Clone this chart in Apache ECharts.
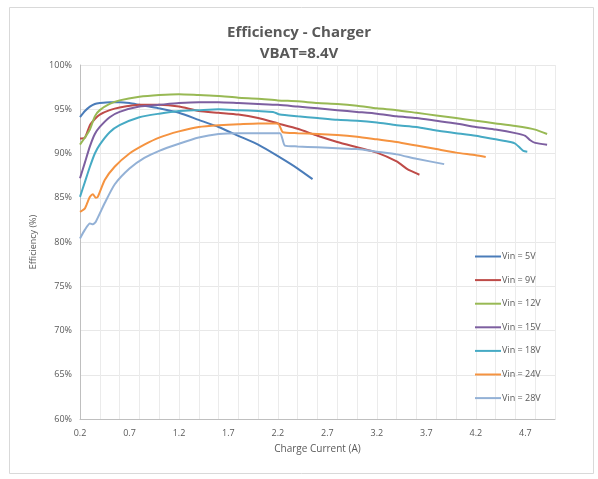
<!DOCTYPE html>
<html>
<head>
<meta charset="utf-8">
<script src="https://cdn.jsdelivr.net/npm/echarts@6/dist/echarts.min.js"></script>
<style>
html,body{margin:0;padding:0;background:#fff;}
#chart{width:598px;height:479px;}
</style>
</head>
<body>
<div id="chart"></div>
<script>
// ---- Data ----
const seriesNames = ['Vin = 5V','Vin = 9V','Vin = 12V','Vin = 15V','Vin = 18V','Vin = 24V','Vin = 28V'];

const vin5I = [0.2,0.25,0.3,0.35,0.4,0.5,0.6,0.7,0.8,0.9,1.0,1.2,1.4,1.6,1.8,2.0,2.2,2.4,2.55];
const vin5E = [94.1,94.8,95.3,95.6,95.7,95.8,95.8,95.7,95.5,95.3,95.1,94.6,93.8,93.0,92.0,91.0,89.7,88.3,87.1];

const vin9I = [0.2,0.25,0.3,0.35,0.4,0.5,0.6,0.8,1.0,1.2,1.4,1.6,1.8,2.0,2.2,2.4,2.6,2.8,3.0,3.2,3.4,3.5,3.55,3.63];
const vin9E = [91.7,91.8,93.2,93.9,94.4,94.9,95.2,95.5,95.5,95.3,94.8,94.6,94.4,94.0,93.4,92.8,92.0,91.3,90.7,90.1,89.1,88.3,88.0,87.6];

const vin12I = [0.2,0.25,0.3,0.35,0.4,0.5,0.6,0.8,1.0,1.2,1.4,1.6,1.8,2.0,2.2,2.4,2.6,2.8,3.0,3.2,3.4,3.6,3.8,4.0,4.2,4.4,4.6,4.8,4.92];
const vin12E = [91.0,91.8,92.7,94.2,94.9,95.6,96.0,96.4,96.6,96.7,96.6,96.5,96.3,96.2,96.0,95.9,95.7,95.6,95.4,95.1,94.9,94.6,94.3,94.0,93.7,93.4,93.1,92.7,92.2];

const vin15I = [0.2,0.25,0.3,0.35,0.4,0.5,0.6,0.8,1.0,1.2,1.4,1.6,1.8,2.0,2.2,2.4,2.6,2.8,3.0,3.2,3.4,3.6,3.8,4.0,4.2,4.4,4.6,4.7,4.75,4.8,4.92];
const vin15E = [87.2,89.0,90.8,92.2,93.0,94.1,94.7,95.3,95.5,95.7,95.8,95.8,95.7,95.6,95.5,95.3,95.1,94.9,94.7,94.5,94.2,94.0,93.7,93.4,93.0,92.7,92.3,92.0,91.5,91.2,91.0];

const vin18I = [0.2,0.25,0.3,0.35,0.4,0.5,0.6,0.8,1.0,1.2,1.4,1.6,1.8,2.0,2.15,2.22,2.4,2.6,2.8,3.0,3.2,3.4,3.6,3.8,4.0,4.2,4.4,4.55,4.6,4.65,4.68,4.72];
const vin18E = [85.1,86.8,88.5,90.0,91.0,92.4,93.2,94.1,94.5,94.8,94.9,95.0,94.9,94.8,94.7,94.4,94.2,94.0,93.8,93.7,93.5,93.2,93.0,92.6,92.3,92.0,91.6,91.3,91.1,90.6,90.3,90.2];

const vin24I = [0.2,0.25,0.28,0.3,0.33,0.36,0.38,0.45,0.55,0.7,0.85,1.0,1.2,1.4,1.6,1.8,2.0,2.2,2.25,2.4,2.6,2.8,3.0,3.2,3.4,3.6,3.8,4.0,4.2,4.3];
const vin24E = [83.4,83.8,84.6,85.1,85.4,85.0,85.1,87.0,88.5,90.0,91.0,91.8,92.5,93.0,93.2,93.3,93.4,93.4,92.4,92.3,92.2,92.1,91.9,91.6,91.3,90.9,90.5,90.1,89.8,89.6];

const vin28I = [0.2,0.25,0.3,0.33,0.36,0.45,0.55,0.7,0.85,1.0,1.2,1.4,1.6,1.8,2.0,2.22,2.27,2.4,2.6,2.8,3.0,3.2,3.4,3.6,3.88];
const vin28E = [80.4,81.4,82.1,82.0,82.3,84.4,86.5,88.3,89.5,90.3,91.1,91.8,92.2,92.3,92.3,92.3,90.9,90.8,90.7,90.6,90.5,90.2,89.9,89.4,88.8];

const currents = [vin5I, vin9I, vin12I, vin15I, vin18I, vin24I, vin28I];
const effs = [vin5E, vin9E, vin12E, vin15E, vin18E, vin24E, vin28E];
const colors = ['#4A7CB9','#BE4B48','#98B954','#7D5FA0','#46AAC4','#F59340','#93B1D6'];

const FONT = '"Open Sans", "Liberation Sans", sans-serif';
const chart = echarts.init(document.getElementById('chart'));

const series = seriesNames.map((n, i) => ({
  name: n,
  type: 'line',
  xAxisIndex: 0,
  showSymbol: false,
  symbol: 'none',
  smooth: 0.2,
  lineStyle: { width: 2, color: colors[i] },
  itemStyle: { color: colors[i] },
  data: currents[i].map((x, j) => [x, effs[i][j]])
}));

chart.setOption({
  animation: false,
  backgroundColor: '#fff',
  graphic: [{
    type: 'rect', shape: { x: 9.5, y: 7.5, width: 584, height: 466 },
    style: { fill: 'none', stroke: '#D9D9D9', lineWidth: 1 }, silent: true
  }],
  title: {
    text: 'Efficiency - Charger\nVBAT=8.4V',
    left: 'center', top: 17,
    textStyle: { fontFamily: FONT, fontSize: 15, fontWeight: 'bold', color: '#595959', lineHeight: 21 }
  },
  legend: {
    orient: 'vertical',
    left: 470, top: 247,
    itemWidth: 26, itemHeight: 2, itemGap: 14.6,
    icon: 'rect',
    textStyle: { fontFamily: FONT, fontSize: 9, color: '#595959', padding: [0,0,0,-4] },
    data: seriesNames
  },
  grid: { left: 80, right: 43, top: 65, bottom: 60 },
  xAxis: [{
    type: 'value', min: 0.2, max: 5.0, interval: 0.5,
    name: 'Charge Current (A)', nameLocation: 'middle', nameGap: 25,
    nameTextStyle: { fontFamily: FONT, fontSize: 10, color: '#595959' },
    axisLine: { show: true, lineStyle: { color: '#BFBFBF' } },
    axisTick: { show: false },
    splitLine: { show: false },
    axisLabel: {
      fontFamily: FONT, fontSize: 9, color: '#595959', margin: 10,
      showMaxLabel: false,
      formatter: v => (v > 4.8 ? '' : v.toFixed(1))
    }
  }, {
    type: 'value', min: 0.2, max: 5.0, interval: 0.2, position: 'bottom',
    axisLine: { show: false }, axisTick: { show: false }, axisLabel: { show: false },
    splitLine: { show: true, lineStyle: { color: '#EBEBEB', width: 1 } }
  }],
  yAxis: {
    type: 'value', min: 60, max: 100, interval: 5,
    name: 'Efficiency (%)', nameLocation: 'middle', nameGap: 38, nameRotate: 90,
    nameTextStyle: { fontFamily: FONT, fontSize: 9, color: '#595959' },
    axisLine: { show: true, lineStyle: { color: '#BFBFBF' } },
    axisTick: { show: false },
    splitLine: { show: true, lineStyle: { color: '#E8E8E8' } },
    axisLabel: { fontFamily: FONT, fontSize: 9, color: '#595959', margin: 8, formatter: v => v + '%' }
  },
  series: series
});
</script>
</body>
</html>
